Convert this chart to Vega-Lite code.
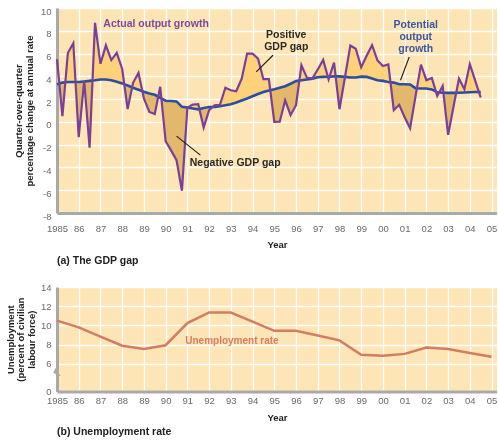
{
  "$schema": "https://vega.github.io/schema/vega-lite/v6.json",
  "padding": {"left": 5, "top": 6, "right": 0, "bottom": 0},
  "background": "#ffffff",
  "spacing": 16,
  "config": {
    "font": "Liberation Sans",
    "view": {"stroke": null},
    "axis": {
      "grid": true, "gridColor": "#ffffff", "gridWidth": 1.3, "gridOpacity": 1,
      "domainColor": "#a9a9a9", "domainWidth": 3,
      "ticks": false, "tickSize": 0, "tickCount": 40,
      "labelFlush": false, "labelOverlap": false, "labelBound": false,
      "labelFont": "Liberation Sans", "labelFontSize": 9.5, "labelColor": "#6a6a6a",
      "titleFont": "Liberation Sans", "titleFontSize": 9.5, "titleFontWeight": "bold", "titleColor": "#222222",
      "zindex": 1
    }
  },
  "datasets": {
    "gdp": [
      {"t":1985.00,"actual":5.5,"potential":3.3},
      {"t":1985.25,"actual":0.5,"potential":3.45},
      {"t":1985.50,"actual":6.05,"potential":3.5},
      {"t":1985.75,"actual":6.9,"potential":3.5},
      {"t":1986.00,"actual":-1.35,"potential":3.5},
      {"t":1986.25,"actual":3.6,"potential":3.55},
      {"t":1986.50,"actual":-2.27,"potential":3.6},
      {"t":1986.75,"actual":8.7,"potential":3.65},
      {"t":1987.00,"actual":5.1,"potential":3.72},
      {"t":1987.25,"actual":6.72,"potential":3.72},
      {"t":1987.50,"actual":5.43,"potential":3.66},
      {"t":1987.75,"actual":6.06,"potential":3.52},
      {"t":1988.00,"actual":4.65,"potential":3.38},
      {"t":1988.25,"actual":1.13,"potential":3.2},
      {"t":1988.50,"actual":3.43,"potential":3.0},
      {"t":1988.75,"actual":4.3,"potential":2.82},
      {"t":1989.00,"actual":2.05,"potential":2.64},
      {"t":1989.25,"actual":0.87,"potential":2.5},
      {"t":1989.50,"actual":0.7,"potential":2.38},
      {"t":1989.75,"actual":3.08,"potential":2.1},
      {"t":1990.00,"actual":-1.7,"potential":1.86},
      {"t":1990.25,"actual":-2.5,"potential":1.84},
      {"t":1990.50,"actual":-3.36,"potential":1.8},
      {"t":1990.75,"actual":-6.05,"potential":1.32},
      {"t":1991.00,"actual":1.25,"potential":1.26},
      {"t":1991.25,"actual":1.52,"potential":1.18},
      {"t":1991.50,"actual":1.55,"potential":1.1},
      {"t":1991.75,"actual":-0.5,"potential":1.22},
      {"t":1992.00,"actual":1.02,"potential":1.3},
      {"t":1992.25,"actual":1.46,"potential":1.32},
      {"t":1992.50,"actual":1.5,"potential":1.38},
      {"t":1992.75,"actual":3.0,"potential":1.46},
      {"t":1993.00,"actual":2.78,"potential":1.55},
      {"t":1993.25,"actual":2.69,"potential":1.7},
      {"t":1993.50,"actual":3.8,"potential":1.88},
      {"t":1993.75,"actual":6.0,"potential":2.05},
      {"t":1994.00,"actual":6.0,"potential":2.25},
      {"t":1994.25,"actual":5.56,"potential":2.45},
      {"t":1994.50,"actual":3.75,"potential":2.63},
      {"t":1994.75,"actual":3.75,"potential":2.76},
      {"t":1995.00,"actual":0.0,"potential":2.86},
      {"t":1995.25,"actual":0.02,"potential":3.0},
      {"t":1995.50,"actual":1.9,"potential":3.13},
      {"t":1995.75,"actual":0.59,"potential":3.35},
      {"t":1996.00,"actual":1.46,"potential":3.58},
      {"t":1996.25,"actual":4.97,"potential":3.65},
      {"t":1996.50,"actual":3.89,"potential":3.72},
      {"t":1996.75,"actual":3.8,"potential":3.8},
      {"t":1997.00,"actual":4.6,"potential":3.92},
      {"t":1997.25,"actual":5.44,"potential":3.95},
      {"t":1997.50,"actual":3.72,"potential":3.97},
      {"t":1997.75,"actual":5.2,"potential":4.0},
      {"t":1998.00,"actual":1.11,"potential":4.0},
      {"t":1998.25,"actual":3.9,"potential":3.95},
      {"t":1998.50,"actual":6.7,"potential":3.9},
      {"t":1998.75,"actual":6.42,"potential":3.9},
      {"t":1999.00,"actual":4.8,"potential":3.97},
      {"t":1999.25,"actual":5.8,"potential":3.95},
      {"t":1999.50,"actual":6.73,"potential":3.8},
      {"t":1999.75,"actual":5.4,"potential":3.66},
      {"t":2000.00,"actual":4.9,"potential":3.6},
      {"t":2000.25,"actual":5.05,"potential":3.5},
      {"t":2000.50,"actual":1.03,"potential":3.45},
      {"t":2000.75,"actual":1.5,"potential":3.3},
      {"t":2001.00,"actual":0.4,"potential":3.3},
      {"t":2001.25,"actual":-0.55,"potential":3.28},
      {"t":2001.50,"actual":2.25,"potential":2.96},
      {"t":2001.75,"actual":5.03,"potential":2.93},
      {"t":2002.00,"actual":3.66,"potential":2.93},
      {"t":2002.25,"actual":3.86,"potential":2.85},
      {"t":2002.50,"actual":2.28,"potential":2.6},
      {"t":2002.75,"actual":3.16,"potential":2.56},
      {"t":2003.00,"actual":-1.14,"potential":2.55},
      {"t":2003.25,"actual":1.35,"potential":2.55},
      {"t":2003.50,"actual":3.8,"potential":2.56},
      {"t":2003.75,"actual":2.87,"potential":2.58},
      {"t":2004.00,"actual":5.06,"potential":2.6},
      {"t":2004.25,"actual":3.6,"potential":2.62},
      {"t":2004.50,"actual":2.14,"potential":2.63}
    ],
    "unemp": [
      {"year":1985,"rate":10.5},
      {"year":1986,"rate":9.8},
      {"year":1987,"rate":8.85},
      {"year":1988,"rate":7.9},
      {"year":1989,"rate":7.55},
      {"year":1990,"rate":7.95},
      {"year":1991,"rate":10.25},
      {"year":1992,"rate":11.35},
      {"year":1993,"rate":11.35},
      {"year":1994,"rate":10.4},
      {"year":1995,"rate":9.45},
      {"year":1996,"rate":9.45},
      {"year":1997,"rate":8.95},
      {"year":1998,"rate":8.45},
      {"year":1999,"rate":6.95},
      {"year":2000,"rate":6.85},
      {"year":2001,"rate":7.05},
      {"year":2002,"rate":7.7},
      {"year":2003,"rate":7.55},
      {"year":2004,"rate":7.15},
      {"year":2005,"rate":6.75}
    ]
  },
  "vconcat": [
    {
      "width": 440,
      "height": 205,
      "view": {"fill": "#FDE5B5", "stroke": null},
      "title": {"text": "(a) The GDP gap", "orient": "bottom", "anchor": "start", "frame": "group", "fontSize": 10.5, "fontWeight": "bold", "color": "#222222", "offset": 7},
      "data": {"name": "gdp"},
      "encoding": {
        "x": {
          "field": "t", "type": "quantitative",
          "scale": {"domain": [1985, 2005.25], "nice": false, "zero": false},
          "axis": {
            "values": [1985,1986,1987,1988,1989,1990,1991,1992,1993,1994,1995,1996,1997,1998,1999,2000,2001,2002,2003,2004,2005],
            "labelExpr": "datum.value == 1985 ? '1985' : substring(toString(datum.value), 2, 4)",
            "labelOverlap": false, "tickCount": 40,
            "title": "Year", "labelPadding": 10, "titlePadding": 6.5
          }
        }
      },
      "layer": [
        {
          "mark": {"type": "area", "fill": "#F0C572", "stroke": null},
          "encoding": {
            "y": {
              "field": "actual", "type": "quantitative",
              "scale": {"domain": [-8, 10], "nice": false, "zero": false},
              "axis": {
                "values": [-8,-6,-4,-2,0,2,4,6,8,10],
                "labelExpr": "toString(datum.value)",
                "labelOverlap": false, "tickCount": 40,
                "title": ["Quarter-over-quarter", "percentage change at annual rate"],
                "labelOffset": 3, "labelPadding": 6, "titlePadding": 6, "titleLineHeight": 10.7
              }
            },
            "y2": {"field": "potential"}
          }
        },
        {
          "mark": {"type": "area", "fill": "#F2EFEF", "blend": "multiply", "stroke": null},
          "encoding": {
            "y": {"field": "actual", "type": "quantitative"},
            "y2": {"datum": 10}
          }
        },
        {
          "mark": {"type": "area", "fill": "#0D1010", "blend": "color-dodge", "stroke": null},
          "encoding": {
            "y": {"field": "potential", "type": "quantitative"},
            "y2": {"datum": 10}
          }
        },
        {
          "mark": {"type": "line", "color": "#2B4E9F", "strokeWidth": 2.6},
          "encoding": {"y": {"field": "potential", "type": "quantitative"}}
        },
        {
          "mark": {"type": "line", "color": "#7A3F98", "strokeWidth": 2.2},
          "encoding": {"y": {"field": "actual", "type": "quantitative"}}
        },
        {
          "data": {"values": [
            {"t1": 1994.94, "v1": 5.85, "t2": 1994.17, "v2": 4.39},
            {"t1": 2001.21, "v1": 5.7, "t2": 2000.81, "v2": 3.66},
            {"t1": 1990.5, "v1": -1.25, "t2": 1991.6, "v2": -2.92}
          ]},
          "mark": {"type": "rule", "color": "#1a1a1a", "strokeWidth": 1.1},
          "encoding": {
            "x": {"field": "t1", "type": "quantitative"},
            "x2": {"field": "t2"},
            "y": {"field": "v1", "type": "quantitative"},
            "y2": {"field": "v2"}
          }
        },
        {
          "data": {"values": [
            {"t": 1989.56, "v": 8.57, "label": "Actual output growth"}
          ]},
          "mark": {"type": "text", "color": "#7A4A9E", "fontSize": 10.5, "fontWeight": "bold", "align": "center", "baseline": "middle"},
          "encoding": {
            "y": {"field": "v", "type": "quantitative"},
            "text": {"field": "label"}
          }
        },
        {
          "data": {"values": [
            {"t": 2001.51, "v": 8.54, "label": "Potential"},
            {"t": 2001.51, "v": 7.46, "label": "output"},
            {"t": 2001.51, "v": 6.38, "label": "growth"}
          ]},
          "mark": {"type": "text", "color": "#3A58A6", "fontSize": 10.5, "fontWeight": "bold", "align": "center", "baseline": "middle"},
          "encoding": {
            "y": {"field": "v", "type": "quantitative"},
            "text": {"field": "label"}
          }
        },
        {
          "data": {"values": [
            {"t": 1995.55, "v": 7.63, "label": "Positive"},
            {"t": 1995.55, "v": 6.58, "label": "GDP gap"},
            {"t": 1993.2, "v": -3.62, "label": "Negative GDP gap"}
          ]},
          "mark": {"type": "text", "color": "#2a2a2a", "fontSize": 10.5, "fontWeight": "bold", "align": "center", "baseline": "middle"},
          "encoding": {
            "y": {"field": "v", "type": "quantitative"},
            "text": {"field": "label"}
          }
        }
      ]
    },
    {
      "width": 440,
      "height": 104.4,
      "view": {"fill": "#FDE5B5", "stroke": null},
      "title": {"text": "(b) Unemployment rate", "orient": "bottom", "anchor": "start", "frame": "group", "fontSize": 10.5, "fontWeight": "bold", "color": "#222222", "offset": 5},
      "encoding": {
        "x": {
          "field": "year", "type": "quantitative",
          "scale": {"domain": [1985, 2005.25], "nice": false, "zero": false},
          "axis": {
            "values": [1985,1986,1987,1988,1989,1990,1991,1992,1993,1994,1995,1996,1997,1998,1999,2000,2001,2002,2003,2004,2005],
            "labelExpr": "datum.value == 1985 ? '1985' : substring(toString(datum.value), 2, 4)",
            "labelOverlap": false, "tickCount": 40,
            "title": "Year", "labelPadding": 4.5, "titlePadding": 7.5
          }
        }
      },
      "layer": [
        {
          "data": {"name": "unemp"},
          "mark": {"type": "line", "color": "#D27D63", "strokeWidth": 2.5},
          "encoding": {
            "y": {
              "field": "rate", "type": "quantitative",
              "scale": {"domain": [3.15, 14], "nice": false, "zero": false},
              "axis": {
                "values": [3.15, 6, 8, 10, 12, 14],
                "labelExpr": "datum.value < 4 ? '0' : toString(datum.value)",
                "labelOverlap": false, "tickCount": 40,
                "title": ["Unemployment", "(percent of civilian", "labour force)"],
                "labelPadding": 6, "titlePadding": 4, "titleLineHeight": 10.7
              }
            }
          }
        },
        {
          "data": {"values": [
            {"year": 1985, "rate": 5.61},
            {"year": 1984.885, "rate": 5.14},
            {"year": 1985.092, "rate": 4.83},
            {"year": 1985, "rate": 4.68}
          ]},
          "mark": {"type": "line", "color": "#a9a9a9", "strokeWidth": 2},
          "encoding": {
            "y": {"field": "rate", "type": "quantitative"},
            "order": {"field": "rate", "sort": "descending"}
          }
        },
        {
          "data": {"values": [
            {"year": 1993.05, "rate": 8.35, "label": "Unemployment rate"}
          ]},
          "mark": {"type": "text", "color": "#DB7C5E", "fontSize": 10, "fontWeight": "bold", "align": "center", "baseline": "middle"},
          "encoding": {
            "y": {"field": "rate", "type": "quantitative"},
            "text": {"field": "label"}
          }
        }
      ]
    }
  ]
}
